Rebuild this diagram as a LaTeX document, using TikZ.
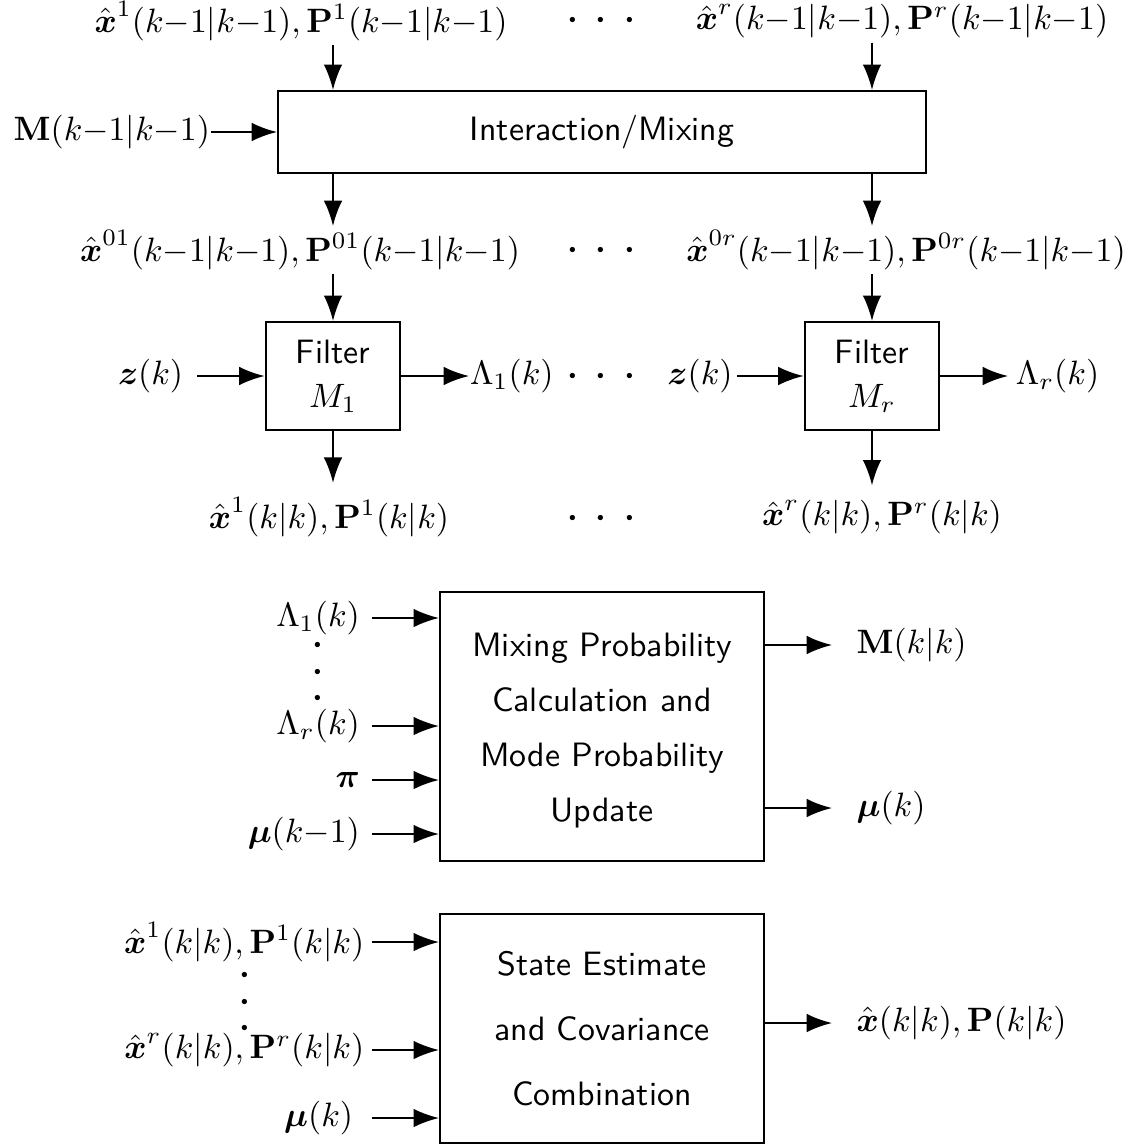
\documentclass[tikz,border=0pt]{standalone}
\usepackage{amsmath}
\usepackage{amssymb}
\usepackage{tikz}
\usetikzlibrary{arrows.meta}

\newcommand{\bdot}{\boldsymbol{\cdot}}
\newcommand{\hdotrow}{${\bdot}\mkern9.4mu{\bdot}\mkern9.4mu{\bdot}$}
\newcommand{\vdotcol}{\vbox{\baselineskip=7.8pt\lineskiplimit=-10pt
  \hbox{$\bdot$}\hbox{$\bdot$}\hbox{$\bdot$}}}

\begin{document}
\begin{tikzpicture}[x=0.2959pt, y=-0.2959pt, line width=0.6pt,
  >={Latex[length=7.5pt,width=5.5pt]},
  block/.style={draw, inner sep=0pt, font=\sffamily, align=center},
  lbl/.style={inner sep=1pt}]
\useasboundingbox (0,0) rectangle (1139,1145);

% filter columns
\coordinate (c1) at (333,0);
\coordinate (cr) at (872,0);

% interaction/mixing
\node[block, minimum width=191.7pt, minimum height=24.3pt] (mix) at (602,132) {Interaction/Mixing};
\node[lbl] (top1) at (301,21) {$\hat{\boldsymbol{x}}^1(k{-}1|k{-}1),\mathbf{P}^1(k{-}1|k{-}1)$};
\node[anchor=base] (topdots) at (601,28.5) {\hdotrow};
\node[lbl] (topr) at (902,21) {$\hat{\boldsymbol{x}}^r(k{-}1|k{-}1),\mathbf{P}^r(k{-}1|k{-}1)$};
\node[lbl, anchor=east, inner xsep=0pt] (Mlab) at (211,132) {$\mathbf{M}(k{-}1|k{-}1)$};
\draw[->] (top1.south -| c1) -- (mix.north -| c1);
\draw[->] (topr.south -| cr) -- (mix.north -| cr);
\draw[->] (Mlab) -- (mix);

% mixed estimates
\node[lbl] (mid1) at (300,250) {$\hat{\boldsymbol{x}}^{01}(k{-}1|k{-}1),\mathbf{P}^{01}(k{-}1|k{-}1)$};
\node[anchor=base] (middots) at (601,258.5) {\hdotrow};
\node[lbl] (midr) at (906,250) {$\hat{\boldsymbol{x}}^{0r}(k{-}1|k{-}1),\mathbf{P}^{0r}(k{-}1|k{-}1)$};
\draw[->] (mix.south -| c1) -- (mid1.north -| c1);
\draw[->] (mix.south -| cr) -- (midr.north -| cr);

% filters
\node[block, minimum width=39.9pt, minimum height=32pt] (filt1) at (333,376) {Filter\\[1pt]$M_1$};
\node[block, minimum width=39.9pt, minimum height=32pt] (filtr) at (872,376) {Filter\\[1pt]$M_r$};
\draw[->] (mid1.south -| c1) -- (filt1);
\draw[->] (midr.south -| cr) -- (filtr);
\node[lbl, anchor=east, inner xsep=3.8pt] (z1) at (197,376) {$\boldsymbol{z}(k)$};
\node[lbl, anchor=west, inner xsep=0pt] (lam1) at (469,376) {$\Lambda_1(k)$};
\node[anchor=base] (filtdots) at (601,384.5) {\hdotrow};
\node[lbl, anchor=east, inner xsep=1pt] (zr) at (737,376) {$\boldsymbol{z}(k)$};
\node[lbl, anchor=west, inner xsep=2pt] (lamr) at (1008,376) {$\Lambda_r(k)$};
\draw[->] (z1) -- (filt1);
\draw[->] (filt1) -- (lam1);
\draw[->] (zr) -- (filtr);
\draw[->] (filtr) -- (lamr);

% filter outputs
\node[lbl, inner ysep=4pt] (out1) at (329,517) {$\hat{\boldsymbol{x}}^1(k|k),\mathbf{P}^1(k|k)$};
\node[anchor=base] (outdots) at (601,526.5) {\hdotrow};
\node[lbl, inner ysep=4pt] (outr) at (882,517) {$\hat{\boldsymbol{x}}^r(k|k),\mathbf{P}^r(k|k)$};
\draw[->] (filt1) -- (out1.north -| c1);
\draw[->] (filtr) -- (outr.north -| cr);

% mode probabilities
\node[block, minimum width=95.9pt, minimum height=79.6pt] (prob) at (602,726.5)
  {\\[-2.6pt]Mixing Probability\\[4.3pt]Calculation and\\[4.3pt]Mode Probability\\[4.3pt]Update};
\node[lbl, anchor=east, inner xsep=3.3pt] (pl1) at (372,618) {$\Lambda_1(k)$};
\node[inner sep=0pt] (pdots) at (318,672) {\vdotcol};
\node[lbl, anchor=east, inner xsep=3.3pt] (plr) at (372,726) {$\Lambda_r(k)$};
\node[lbl, anchor=east, inner xsep=3.3pt] (ppi) at (372,780) {$\boldsymbol{\pi}$};
\node[lbl, anchor=east, inner xsep=3.3pt] (pmu) at (372,834) {$\boldsymbol{\mu}(k{-}1)$};
\node[lbl, anchor=west, inner xsep=7pt] (pM) at (832,645) {$\mathbf{M}(k|k)$};
\node[lbl, anchor=west, inner xsep=7pt] (pmuk) at (832,808) {$\boldsymbol{\mu}(k)$};
\foreach \n in {pl1,plr,ppi,pmu}
  \draw[->] (\n) -- (\n -| prob.west);
\draw[->] (pM -| prob.east) -- (pM);
\draw[->] (pmuk -| prob.east) -- (pmuk);

% combination
\node[block, minimum width=95.9pt, minimum height=67.8pt] (comb) at (602,1028.5)
  {State Estimate\\[7.2pt]and Covariance\\[7.2pt]Combination};
\node[lbl, anchor=east, inner xsep=2pt] (cx1) at (372,942) {$\hat{\boldsymbol{x}}^1(k|k),\mathbf{P}^1(k|k)$};
\node[inner sep=0pt] (cdots) at (245,1002) {\vdotcol};
\node[lbl, anchor=east, inner xsep=2pt] (cxr) at (372,1050) {$\hat{\boldsymbol{x}}^r(k|k),\mathbf{P}^r(k|k)$};
\node[lbl, anchor=east, inner xsep=5.3pt] (cmu) at (372,1118) {$\boldsymbol{\mu}(k)$};
\node[lbl, anchor=west, inner xsep=7pt] (cout) at (832,1023) {$\hat{\boldsymbol{x}}(k|k),\mathbf{P}(k|k)$};
\foreach \n in {cx1,cxr,cmu}
  \draw[->] (\n) -- (\n -| comb.west);
\draw[->] (cout -| comb.east) -- (cout);
\end{tikzpicture}
\end{document}
